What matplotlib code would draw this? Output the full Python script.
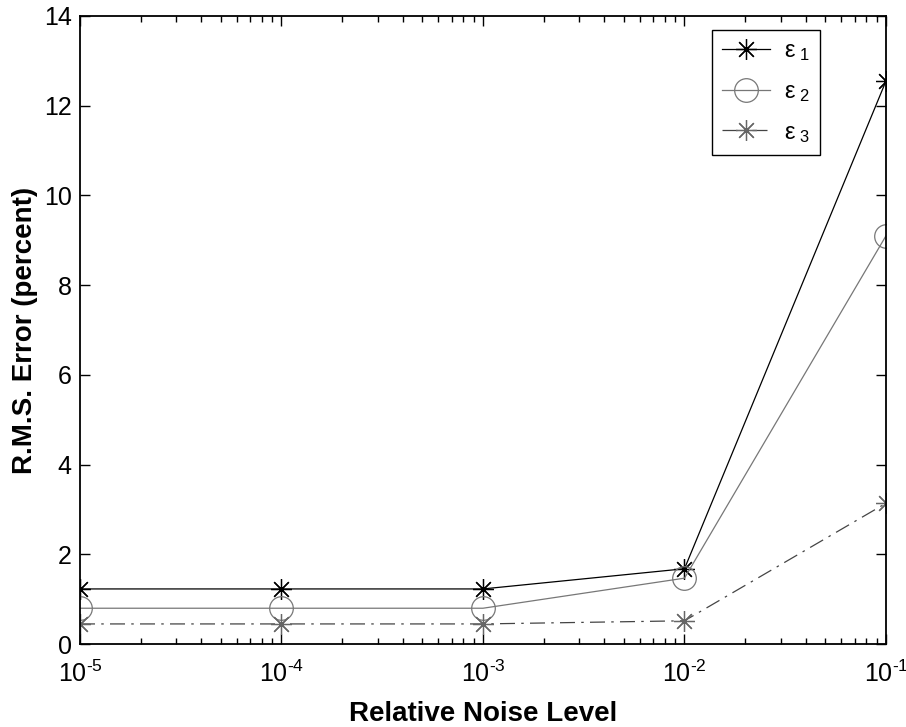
import numpy as np
import matplotlib
matplotlib.use("Agg")
import matplotlib.pyplot as plt
from matplotlib.ticker import LogLocator, NullFormatter, FixedLocator

plt.rcParams['font.family'] = ['Liberation Sans', 'DejaVu Sans']
plt.rcParams['mathtext.fontset'] = 'custom'
plt.rcParams['mathtext.rm'] = 'Liberation Sans'
plt.rcParams['mathtext.it'] = 'Liberation Sans'

# data
noise = [1e-5, 1e-4, 1e-3, 1e-2, 1e-1]
eps1 = [1.23, 1.23, 1.23, 1.68, 12.55]
eps2 = [0.80, 0.80, 0.80, 1.47, 9.10]
eps3 = [0.45, 0.45, 0.45, 0.52, 3.14]
labels = [r'$\epsilon_{\ 1}$', r'$\epsilon_{\ 2}$', r'$\epsilon_{\ 3}$']
xticklabels = [r'$10^{\text{-}5}$', r'$10^{\text{-}4}$', r'$10^{\text{-}3}$',
               r'$10^{\text{-}2}$', r'$10^{\text{-}1}$']

star = (8, 2, 0)

fig = plt.figure(figsize=(9.06, 7.27), dpi=100)
ax = fig.add_axes([0.0883, 0.114, 0.8896, 0.864])

ax.plot(noise, eps1, color='black', lw=0.9, marker=star, ms=15, mew=0.9, label=labels[0])
ax.plot(noise, eps2, color='#777777', lw=0.9, marker='o', ms=17, mfc='none', mew=0.9, label=labels[1])
ax.plot(noise, eps3, color='#444444', lw=0.9, ls=(0, (12, 5, 2, 5)), marker=star, ms=15,
        mec='#666666', mew=0.9, label=labels[2])

ax.set_xscale('log')
ax.set_xlim(1e-5, 1e-1)
ax.set_ylim(0, 14)
ax.xaxis.set_major_locator(FixedLocator(noise))
ax.set_xticklabels(xticklabels)
ax.xaxis.set_minor_locator(LogLocator(base=10, subs=np.arange(2, 10)))
ax.xaxis.set_minor_formatter(NullFormatter())
ax.set_yticks(range(0, 15, 2))

ax.tick_params(which='both', direction='in', top=True, right=True, labelsize=18)
ax.tick_params(axis='x', pad=12)
ax.tick_params(axis='y', pad=6)
ax.tick_params(which='major', length=7, width=1)
ax.tick_params(which='minor', length=4, width=1)
for s in ax.spines.values():
    s.set_linewidth(1.3)

ax.set_xlabel('Relative Noise Level', fontsize=20, fontweight='bold', labelpad=10)
ax.set_ylabel('R.M.S. Error (percent)', fontsize=20, fontweight='bold', labelpad=4)

leg = ax.legend(loc='upper right', bbox_to_anchor=(0.918, 0.978), borderaxespad=0,
                fontsize=17, fancybox=False, framealpha=1, edgecolor='black',
                handlelength=2.0, handletextpad=0.6, borderpad=0.45, labelspacing=0.75)
leg.get_frame().set_linewidth(1.0)

fig.savefig('out.png', dpi=100)
